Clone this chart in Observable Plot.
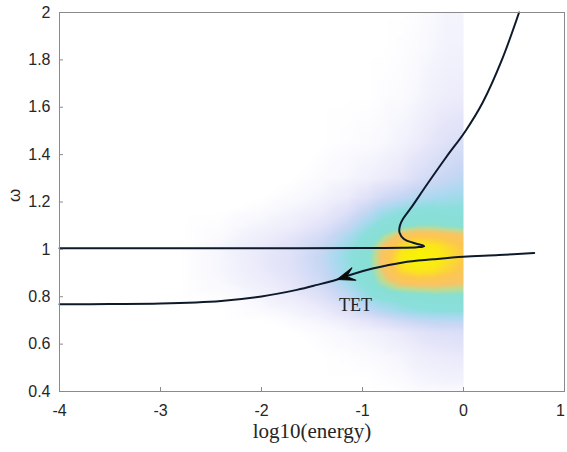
<!DOCTYPE html>
<html>
<head>
<meta charset="utf-8">
<script src="https://cdn.jsdelivr.net/npm/d3@7"></script>
<script src="https://cdn.jsdelivr.net/npm/@observablehq/plot@0.6"></script>
<style>
  html, body { margin: 0; padding: 0; background: white; }
</style>
</head>
<body>
<div id="chart"></div>
<script>
// ---- tick labels ----
const xTicks = [-4, -3, -2, -1, 0, 1];
const yTicks = [0.4, 0.6, 0.8, 1, 1.2, 1.4, 1.6, 1.8, 2];

// ---- density map samples ----
const gridX = [-2.8, -2.4, -2.0, -1.7, -1.4, -1.15, -0.95, -0.8, -0.6, -0.45, -0.3, -0.15, 0];
const gridY = [0.4, 0.45, 0.55, 0.65, 0.7, 0.74, 0.8, 0.86, 0.91, 0.96, 1.01, 1.06, 1.1, 1.16, 1.22, 1.3, 1.45, 1.65, 1.85, 2.0];
const density = [
  [0, 0, 0, 0, 0, 0, 0, 0, 0.01, 0.02, 0.02, 0.02, 0.02],
  [0, 0, 0, 0, 0, 0, 0, 0.01, 0.02, 0.04, 0.05, 0.06, 0.06],
  [0, 0, 0, 0, 0, 0.01, 0.02, 0.03, 0.05, 0.08, 0.10, 0.11, 0.12],
  [0, 0, 0, 0, 0.02, 0.04, 0.06, 0.08, 0.12, 0.15, 0.18, 0.19, 0.20],
  [0, 0, 0, 0.02, 0.05, 0.10, 0.15, 0.20, 0.26, 0.30, 0.32, 0.33, 0.33],
  [0, 0, 0.02, 0.05, 0.10, 0.18, 0.28, 0.35, 0.42, 0.45, 0.47, 0.47, 0.47],
  [0, 0.01, 0.05, 0.10, 0.18, 0.30, 0.44, 0.50, 0.54, 0.56, 0.58, 0.58, 0.58],
  [0, 0.03, 0.09, 0.14, 0.25, 0.40, 0.53, 0.66, 0.76, 0.78, 0.78, 0.76, 0.74],
  [0, 0.04, 0.11, 0.17, 0.28, 0.43, 0.56, 0.72, 0.89, 0.93, 0.91, 0.86, 0.80],
  [0, 0.04, 0.12, 0.18, 0.30, 0.45, 0.58, 0.76, 0.96, 1.00, 0.98, 0.91, 0.84],
  [0, 0.04, 0.11, 0.17, 0.28, 0.43, 0.56, 0.74, 0.91, 0.96, 0.94, 0.88, 0.82],
  [0, 0.02, 0.08, 0.13, 0.22, 0.36, 0.50, 0.62, 0.77, 0.81, 0.80, 0.77, 0.74],
  [0, 0.01, 0.05, 0.09, 0.16, 0.28, 0.42, 0.52, 0.58, 0.62, 0.62, 0.60, 0.58],
  [0, 0, 0.02, 0.05, 0.10, 0.18, 0.30, 0.40, 0.47, 0.50, 0.51, 0.50, 0.50],
  [0, 0, 0, 0.02, 0.05, 0.10, 0.17, 0.24, 0.30, 0.35, 0.38, 0.40, 0.42],
  [0, 0, 0, 0, 0.02, 0.04, 0.07, 0.10, 0.14, 0.20, 0.25, 0.29, 0.32],
  [0, 0, 0, 0, 0, 0.01, 0.02, 0.03, 0.06, 0.10, 0.14, 0.18, 0.20],
  [0, 0, 0, 0, 0, 0, 0, 0.01, 0.02, 0.04, 0.07, 0.09, 0.10],
  [0, 0, 0, 0, 0, 0, 0, 0, 0.01, 0.02, 0.04, 0.06, 0.06],
  [0, 0, 0, 0, 0, 0, 0, 0, 0, 0.01, 0.03, 0.05, 0.05]
];
const colorStops = [0, 0.05, 0.15, 0.28, 0.38, 0.48, 0.6, 0.67, 0.74, 0.83, 0.92, 1.0];
const colorRange = ["#ffffff", "#f4f4fd", "#e4e4f9", "#c9d7f4", "#aad9ef", "#8adfdc", "#88dfd3", "#bddc94", "#f8c466", "#fdc84c", "#fbe61c", "#f8f500"];

// ---- backbone curve (upper, with fold) ----
const backboneE = [-4, -3, -2, -1, -0.6, -0.46, -0.39, -0.42, -0.5, -0.59, -0.633, -0.63, -0.6, -0.52, -0.36, -0.17, 0.02, 0.19, 0.38, 0.55];
const backboneW = [1.005, 1.005, 1.005, 1.006, 1.007, 1.009, 1.013, 1.019, 1.028, 1.044, 1.07, 1.1, 1.128, 1.175, 1.275, 1.39, 1.5, 1.62, 1.8, 2.0];

// ---- TET path (lower) ----
const tetE = [0.70, 0.35, 0, -0.3, -0.6, -0.9, -1.1, -1.25, -1.45, -1.65, -2.0, -2.4, -3.0, -3.5, -4];
const tetW = [0.985, 0.976, 0.969, 0.958, 0.945, 0.919, 0.895, 0.873, 0.85, 0.829, 0.801, 0.782, 0.771, 0.769, 0.768];

const arrowE = [-1.25];
const arrowW = [0.873];
const labelText = ["TET"];
const labelE = [-1.07];
const labelW = [0.764];

// ---- build tables ----
const cells = [];
gridY.forEach((y, i) => gridX.forEach((x, j) => cells.push({x, y, v: density[i][j]})));
const backbone = backboneE.map((e, i) => ({e, w: backboneW[i]}));
const tet = tetE.map((e, i) => ({e, w: tetW[i]}));
const arrow = arrowE.map((e, i) => ({e, w: arrowW[i]}));
const labels = labelText.map((t, i) => ({t, e: labelE[i], w: labelW[i]}));

const stealth = {
  draw(context, l, r) {
    const w = 6.5;
    context.moveTo(0, -l);
    context.lineTo(-w, 1.5);
    context.lineTo(0, -l * 0.38);
    context.lineTo(w, 1.5);
    context.closePath();
  }
};

const W = 567, H = 452, mL = 59, mR = 3, mT = 12, mB = 61;
const fw = W - mL - mR, fh = H - mT - mB;
const lineColor = "#0e1a2b";
const axisGray = "#8a8a8a";
const textColor = "#262626";

const chart = Plot.plot({
  width: W, height: H,
  marginLeft: mL, marginRight: mR, marginTop: mT, marginBottom: mB,
  style: {background: "white", fontFamily: "'Liberation Sans', Arial, sans-serif", fontSize: "16px", color: textColor, overflow: "visible"},
  x: {domain: [-4, 1]},
  y: {domain: [0.4, 2]},
  color: {type: "linear", domain: colorStops, range: colorRange, interpolate: "rgb"},
  marks: [
    Plot.raster(cells, {x: "x", y: "y", fill: "v", interpolate: "barycentric", x1: -2.8, x2: 0, y1: 0.4, y2: 2}),
    Plot.line(backbone, {x: "e", y: "w", curve: "catmull-rom", stroke: lineColor, strokeWidth: 2}),
    Plot.line(tet, {x: "e", y: "w", curve: "catmull-rom", stroke: lineColor, strokeWidth: 2}),
    Plot.vector(arrow, {x: "e", y: "w", length: 16, rotate: 252, anchor: "end", shape: stealth, fill: "#0a0a0a", stroke: "#0a0a0a", strokeWidth: 1}),
    Plot.text(labels, {x: "e", y: "w", text: "t", fontFamily: "'Liberation Serif', 'Times New Roman', serif", fontSize: 18, fill: "#222"}),
    Plot.frame({stroke: axisGray}),
    Plot.tickX(xTicks, {x: d => d, insetTop: fh - 4, stroke: axisGray}),
    Plot.tickY(yTicks, {y: d => d, insetRight: fw - 4, stroke: axisGray}),
    Plot.axisX({ticks: xTicks.slice(0, -1), tickFormat: d => String(d), tickSize: 0, tickPadding: 13, label: null, fill: textColor}),
    Plot.axisX({ticks: xTicks.slice(-1), tickFormat: d => String(d), tickSize: 0, tickPadding: 13, label: null, fill: textColor, dx: -4}),
    Plot.axisY({ticks: yTicks, tickFormat: d => String(d), tickSize: 0, tickPadding: 9, label: null, fill: textColor}),
    Plot.text(["log10(energy)"], {frameAnchor: "bottom", dy: 46, fontFamily: "'Liberation Serif', 'Times New Roman', serif", fontSize: 21, fill: textColor}),
    Plot.text(["ω"], {frameAnchor: "left", dx: -45, rotate: -90, fontSize: 17, fill: textColor})
  ]
});
document.getElementById("chart").append(chart);
</script>
</body>
</html>
